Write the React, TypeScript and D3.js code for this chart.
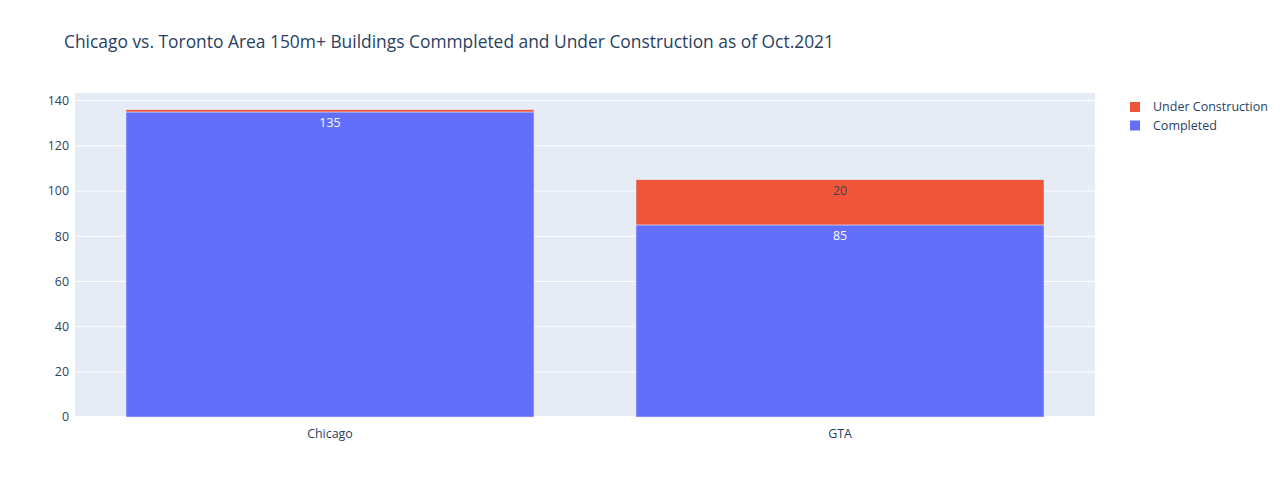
import { scaleBand, scaleLinear } from "d3";
import React from "react";

const categories = ["Chicago", "GTA"];
const completed = [135, 85];
const underConstruction = [1, 20];
const yTicks = [0, 20, 40, 60, 80, 100, 120, 140];

const W = 1280;
const H = 492;
const margin = { top: 93, left: 75, right: 185, bottom: 75 };
const font = '"Open Sans", verdana, arial, sans-serif';
const textColor = "#2a3f5f";
const blue = "#636efa";
const red = "#EF553B";

const App: React.FC = () => {
	const plotW = W - margin.left - margin.right;
	const plotH = H - margin.top - margin.bottom;

	const x = scaleBand().domain(categories).range([0, plotW]).paddingInner(0.2).paddingOuter(0.1);
	const y = scaleLinear().domain([0, 143.4]).range([plotH, 0]);

	return (
		<svg width={W} height={H} style={{ position: "absolute", left: 0, top: 0, fontFamily: font }}>
			<rect width={W} height={H} fill="white" />
			<text x={64} y={48} fontSize={17.4} fill={textColor}>
				Chicago vs. Toronto Area 150m+ Buildings Commpleted and Under Construction as of Oct.2021
			</text>
			<g transform={`translate(${margin.left}, ${margin.top})`}>
				<rect width={plotW} height={plotH} fill="#E5ECF6" />
				{yTicks.map((t) => (
					<g key={t}>
						<line x1={0} x2={plotW} y1={y(t)} y2={y(t)} stroke="white" strokeWidth={t === 0 ? 2 : 1} />
						<text x={-6} y={y(t)} dy="0.35em" textAnchor="end" fontSize={12.4} fill={textColor}>
							{t}
						</text>
					</g>
				))}
				{categories.map((c, i) => {
					const bx = x(c) || 0;
					const bw = x.bandwidth();
					const top1 = y(completed[i]);
					const top2 = y(completed[i] + underConstruction[i]);
					return (
						<g key={c}>
							<rect x={bx} y={top1} width={bw} height={plotH - top1} fill={blue} stroke="#E5ECF6" strokeWidth={0.5} />
							<rect x={bx} y={top2} width={bw} height={top1 - top2} fill={red} stroke="#E5ECF6" strokeWidth={0.5} />
							<text x={bx + bw / 2} y={top1 + 15} textAnchor="middle" fontSize={12.4} fill="white">
								{completed[i]}
							</text>
							{top1 - top2 > 16 && (
								<text x={bx + bw / 2} y={top2 + 15} textAnchor="middle" fontSize={12.4} fill="#444">
									{underConstruction[i]}
								</text>
							)}
							<text x={bx + bw / 2} y={plotH + 17} dy="0.35em" textAnchor="middle" fontSize={12.4} fill={textColor}>
								{c}
							</text>
						</g>
					);
				})}
			</g>
			<g transform="translate(1130, 102)" fontSize={12.5} fill={textColor}>
				{[
					{ name: "Under Construction", color: red },
					{ name: "Completed", color: blue },
				].map((d, i) => (
					<g key={d.name} transform={`translate(0, ${i * 18.5})`}>
						<rect x={0} y={0} width={10} height={10} fill={d.color} />
						<text x={23} y={5} dy="0.35em">
							{d.name}
						</text>
					</g>
				))}
			</g>
		</svg>
	);
};

export default App;
